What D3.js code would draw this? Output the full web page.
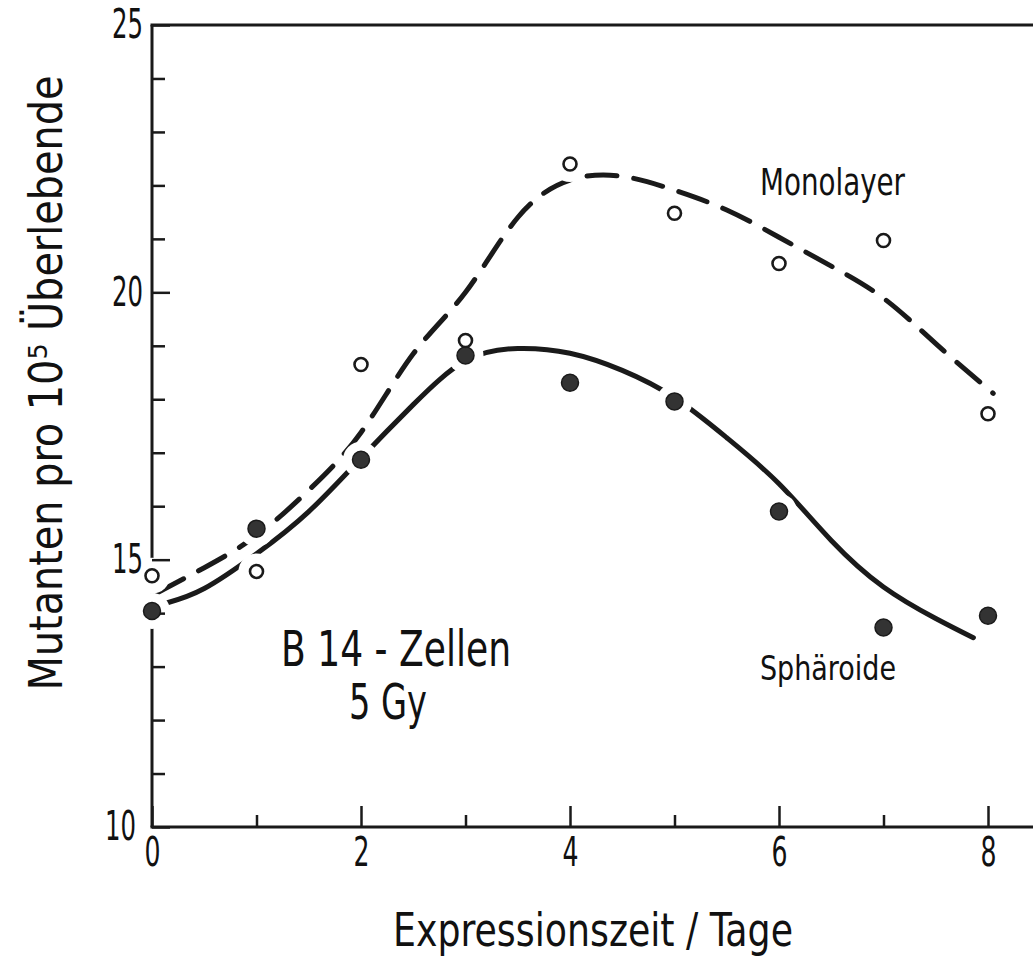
<!DOCTYPE html>
<html>
<head>
<meta charset="utf-8">
<script src="https://cdn.jsdelivr.net/npm/d3@7"></script>
<style>
  body { margin: 0; background: #fff; }
  svg text { font-family: "DejaVu Sans Condensed", "DejaVu Sans", sans-serif; font-stretch: condensed; fill: #111; }
</style>
</head>
<body>
<div id="chart"></div>
<script>
// measured values (Expressionszeit in Tagen)
var days = [0, 1, 2, 3, 4, 5, 6, 7, 8];
var monolayer = [14.70, 14.78, 18.65, 19.10, 22.40, 21.48, 20.54, 20.97, 17.73];
var spharoide = [14.04, 15.58, 16.87, 18.82, 18.31, 17.96, 15.90, 13.73, 13.95];

// hand drawn fit curves
var monoFitX = [0.05, 0.5, 1, 1.5, 2, 2.5, 3, 3.5, 4, 4.5, 5, 5.5, 6, 6.5, 7, 7.5, 8.05];
var monoFitY = [14.38, 14.85, 15.45, 16.3, 17.38, 18.85, 20.0, 21.4, 22.1, 22.17, 21.91, 21.54, 21.03, 20.49, 19.89, 19.04, 18.11];
var spheFitX = [0.14, 0.5, 1, 1.5, 2, 2.5, 3, 3.5, 4, 4.5, 5, 5.5, 6, 6.5, 7, 7.5, 7.86];
var spheFitY = [14.19, 14.46, 15.11, 15.9, 16.9, 17.9, 18.72, 18.95, 18.86, 18.54, 18.03, 17.28, 16.42, 15.36, 14.49, 13.9, 13.54];

// axes
var xTicks = [0, 1, 2, 3, 4, 5, 6, 7, 8];
var xLabelled = [0, 2, 4, 6, 8];
var yTicks = [10, 11, 12, 13, 14, 15, 16, 17, 18, 19, 20, 21, 22, 23, 24, 25];
var yLabelled = [10, 15, 20, 25];
var xFrameEnd = 8.5;

var width = 1033, height = 963;

var x = d3.scaleLinear().domain([0, 8]).range([152, 988]);
var y = d3.scaleLinear().domain([10, 25]).range([827, 25]);

var svg = d3.select("#chart").append("svg")
    .attr("width", width)
    .attr("height", height);

var ink = "#1a1a1a";

// frame lines: left, bottom, top
svg.append("line")
    .attr("x1", x(0)).attr("x2", x(0))
    .attr("y1", y(10)).attr("y2", y(25))
    .attr("stroke", ink).attr("stroke-width", 3);
svg.append("line")
    .attr("x1", x(0) - 1.5).attr("x2", x(xFrameEnd))
    .attr("y1", y(10)).attr("y2", y(10))
    .attr("stroke", ink).attr("stroke-width", 3);
svg.append("line")
    .attr("x1", x(0) - 1.5).attr("x2", x(xFrameEnd))
    .attr("y1", y(25)).attr("y2", y(25))
    .attr("stroke", ink).attr("stroke-width", 3);

// fit curves
var line = d3.line()
    .x(function(d) { return x(d[0]); })
    .y(function(d) { return y(d[1]); })
    .curve(d3.curveNatural);

svg.append("path")
    .datum(d3.zip(monoFitX, monoFitY))
    .attr("d", line)
    .attr("fill", "none")
    .attr("stroke", ink)
    .attr("stroke-width", 5)
    .attr("stroke-linecap", "round")
    .attr("stroke-dasharray", "30 17");

svg.append("path")
    .datum(d3.zip(spheFitX, spheFitY))
    .attr("d", line)
    .attr("fill", "none")
    .attr("stroke", ink)
    .attr("stroke-width", 5)
    .attr("stroke-linecap", "round");

// white halo behind each marker (the drawing leaves gaps round the points)
var allPts = d3.zip(days, spharoide).concat(d3.zip(days, monolayer));
svg.append("g").selectAll("circle")
    .data(allPts)
  .enter().append("circle")
    .attr("cx", function(d) { return x(d[0]); })
    .attr("cy", function(d) { return y(d[1]); })
    .attr("r", 18)
    .attr("fill", "#fff");

// y axis
var yAxis = svg.append("g")
    .attr("transform", "translate(" + x(0) + ",0)")
    .call(d3.axisLeft(y).tickValues(yTicks).tickSizeInner(-13).tickSizeOuter(0).tickPadding(9)
      .tickFormat(function(d) { return yLabelled.indexOf(d) >= 0 ? d : ""; }));
yAxis.select(".domain").remove();
yAxis.selectAll(".tick line")
    .attr("stroke", ink).attr("stroke-width", 2.5)
    .attr("x2", function(d) { return yLabelled.indexOf(d) >= 0 ? 18 : 13; });
yAxis.selectAll(".tick text")
    .attr("font-size", 40)
    .attr("dx", function(d) { return d === 10 ? -7 : 0; })
    .attr("textLength", function(d) { return yLabelled.indexOf(d) >= 0 ? 31 : null; })
    .attr("lengthAdjust", "spacingAndGlyphs");

// x axis
var xAxis = svg.append("g")
    .attr("transform", "translate(0," + y(10) + ")")
    .call(d3.axisBottom(x).tickValues(xTicks).tickSizeInner(-12).tickSizeOuter(0).tickPadding(11)
      .tickFormat(function(d) { return xLabelled.indexOf(d) >= 0 ? d : ""; }));
xAxis.select(".domain").remove();
xAxis.selectAll(".tick line")
    .attr("stroke", ink).attr("stroke-width", 2.5)
    .attr("y2", function(d) { return xLabelled.indexOf(d) >= 0 ? -21 : -12; });
xAxis.selectAll(".tick text")
    .attr("font-size", 40)
    .attr("textLength", function(d) { return xLabelled.indexOf(d) >= 0 ? 16 : null; })
    .attr("lengthAdjust", "spacingAndGlyphs");
svg.selectAll(".tick text").attr("fill", ink);

// Sphäroide: filled dots
svg.append("g").selectAll("circle")
    .data(d3.zip(days, spharoide))
  .enter().append("circle")
    .attr("cx", function(d) { return x(d[0]); })
    .attr("cy", function(d) { return y(d[1]); })
    .attr("r", 8.5)
    .attr("fill", "#333")
    .attr("stroke", ink)
    .attr("stroke-width", 1.5);

// Monolayer: open circles
svg.append("g").selectAll("circle")
    .data(d3.zip(days, monolayer))
  .enter().append("circle")
    .attr("cx", function(d) { return x(d[0]); })
    .attr("cy", function(d) { return y(d[1]); })
    .attr("r", 6.5)
    .attr("fill", "#fff")
    .attr("stroke", ink)
    .attr("stroke-width", 2.6);

// labels
svg.append("text")
    .attr("x", 760).attr("y", 195)
    .attr("font-size", 38)
    .attr("textLength", 145).attr("lengthAdjust", "spacingAndGlyphs")
    .text("Monolayer");

svg.append("text")
    .attr("x", 760).attr("y", 680)
    .attr("font-size", 34)
    .attr("textLength", 136).attr("lengthAdjust", "spacingAndGlyphs")
    .text("Sphäroide");

svg.append("text")
    .attr("x", 281).attr("y", 666)
    .attr("font-size", 50)
    .attr("textLength", 230).attr("lengthAdjust", "spacingAndGlyphs")
    .text("B 14 - Zellen");

svg.append("text")
    .attr("x", 349).attr("y", 719)
    .attr("font-size", 50)
    .attr("textLength", 78).attr("lengthAdjust", "spacingAndGlyphs")
    .text("5 Gy");

// axis titles
svg.append("text")
    .attr("x", 593).attr("y", 946)
    .attr("text-anchor", "middle")
    .attr("font-size", 47)
    .attr("textLength", 400).attr("lengthAdjust", "spacingAndGlyphs")
    .text("Expressionszeit / Tage");

svg.append("text")
    .attr("transform", "translate(62,383) rotate(-90)")
    .attr("text-anchor", "middle")
    .attr("font-size", 46)
    .attr("textLength", 615).attr("lengthAdjust", "spacingAndGlyphs")
    .text("Mutanten pro 10⁵ Überlebende");
</script>
</body>
</html>
